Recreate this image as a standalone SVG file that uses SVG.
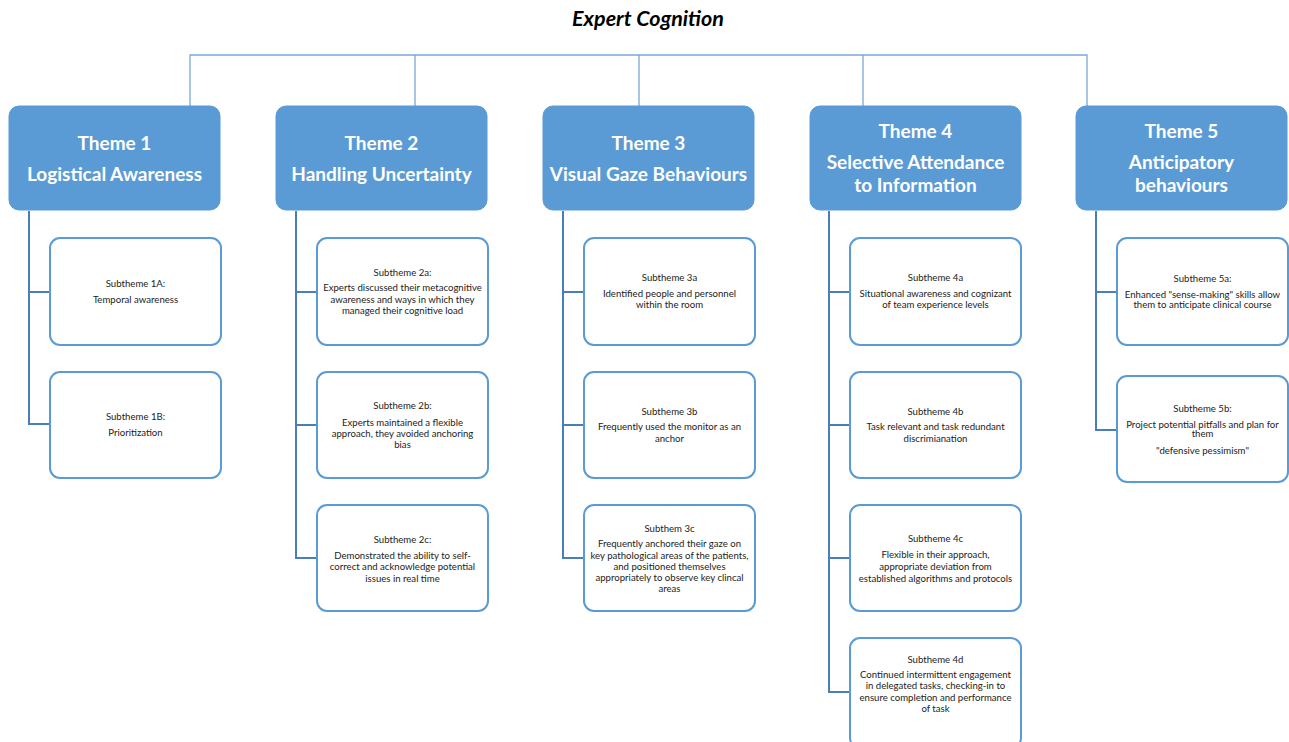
<svg xmlns="http://www.w3.org/2000/svg" width="1289" height="742" viewBox="0 0 1289 742">
<style>
.title{font-family:Lato,"Liberation Sans",sans-serif;font-weight:bold;font-style:italic;font-size:21.5px;fill:#000;text-anchor:middle}
.theme rect{fill:#5b9bd5;stroke:#5b9bd5;stroke-width:1}
.theme text{font-family:Lato,"Liberation Sans",sans-serif;font-weight:bold;font-size:19px;fill:#fff;text-anchor:middle}
.sub rect{fill:#fff;stroke:#5b9bd5;stroke-width:2}
.sub text{font-family:Lato,"Liberation Sans",sans-serif;font-size:9.6px;fill:#222;text-anchor:middle}
.top{fill:none;stroke:#7aa8d8;stroke-width:1.3}
.tree{fill:none;stroke:#4a7ebb;stroke-width:2}
</style>
<rect width="1289" height="742" fill="#fff"/>
<text class="title" x="648" y="25.5">Expert Cognition</text>
<g id="connectors">
<path class="top" d="M190,106 V55 H1087 V106 M415,55 V106 M639,55 V106 M863,55 V106"/>
<path class="tree" d="M29,211 V424 H50 M29,292 H50"/>
<path class="tree" d="M296,211 V558 H317 M296,292 H317 M296,425 H317"/>
<path class="tree" d="M563,211 V558 H584 M563,292 H584 M563,425 H584"/>
<path class="tree" d="M829,211 V692 H850 M829,292 H850 M829,425 H850 M829,558 H850"/>
<path class="tree" d="M1096,211 V430 H1117 M1096,292 H1117"/>
</g>
<g id="theme1" class="theme"><rect x="9" y="106" width="211" height="104" rx="10"/><text x="114.5" y="149.5">Theme 1</text><text x="114.5" y="180.5">Logistical Awareness</text></g>
<g id="theme2" class="theme"><rect x="276" y="106" width="211" height="104" rx="10"/><text x="381.5" y="149.5">Theme 2</text><text x="381.5" y="180.5">Handling Uncertainty</text></g>
<g id="theme3" class="theme"><rect x="543" y="106" width="211" height="104" rx="10"/><text x="648.5" y="149.5">Theme 3</text><text x="648.5" y="180.5">Visual Gaze Behaviours</text></g>
<g id="theme4" class="theme"><rect x="810" y="106" width="211" height="104" rx="10"/><text x="915.5" y="137.5">Theme 4</text><text x="915.5" y="168.5">Selective Attendance</text><text x="915.5" y="191.5">to Information</text></g>
<g id="theme5" class="theme"><rect x="1076" y="106" width="211" height="104" rx="10"/><text x="1181.5" y="137.5">Theme 5</text><text x="1181.5" y="168.5">Anticipatory</text><text x="1181.5" y="191.5">behaviours</text></g>

<g id="sub1a" class="sub"><rect x="50" y="238" width="171" height="107" rx="10"/><text x="135.5" y="286.5">Subtheme 1A:</text><text x="135.5" y="303">Temporal awareness</text></g>
<g id="sub1b" class="sub"><rect x="50" y="372" width="171" height="106" rx="10"/><text x="135.5" y="420">Subtheme 1B:</text><text x="135.5" y="436">Prioritization</text></g>

<g id="sub2a" class="sub"><rect x="317" y="238" width="171" height="107" rx="10"/><text x="402.5" y="275.5">Subtheme 2a:</text><text x="402.5" y="291">Experts discussed their metacognitive</text><text x="402.5" y="302.5">awareness and ways in which they</text><text x="402.5" y="314">managed their cognitive load</text></g>
<g id="sub2b" class="sub"><rect x="317" y="372" width="171" height="106" rx="10"/><text x="402.5" y="409">Subtheme 2b:</text><text x="402.5" y="425.5">Experts maintained a flexible</text><text x="402.5" y="436.5">approach, they avoided anchoring</text><text x="402.5" y="448">bias</text></g>
<g id="sub2c" class="sub"><rect x="317" y="505" width="171" height="106" rx="10"/><text x="402.5" y="543">Subtheme 2c:</text><text x="402.5" y="559">Demonstrated the ability to self-</text><text x="402.5" y="570">correct and acknowledge potential</text><text x="402.5" y="581.5">issues in real time</text></g>

<g id="sub3a" class="sub"><rect x="584" y="238" width="171" height="107" rx="10"/><text x="669.5" y="281">Subtheme 3a</text><text x="669.5" y="297">Identified people and personnel</text><text x="669.5" y="308">within the room</text></g>
<g id="sub3b" class="sub"><rect x="584" y="372" width="171" height="106" rx="10"/><text x="669.5" y="415">Subtheme 3b</text><text x="669.5" y="430">Frequently used the monitor as an</text><text x="669.5" y="442">anchor</text></g>
<g id="sub3c" class="sub"><rect x="584" y="505" width="171" height="106" rx="10"/><text x="669.5" y="531.5">Subthem 3c</text><text x="669.5" y="547">Frequently anchored their gaze on</text><text x="669.5" y="558.5">key pathological areas of the patients,</text><text x="669.5" y="570">and positioned themselves</text><text x="669.5" y="581">appropriately to observe key clincal</text><text x="669.5" y="592">areas</text></g>

<g id="sub4a" class="sub"><rect x="850" y="238" width="171" height="107" rx="10"/><text x="935.5" y="281">Subtheme 4a</text><text x="935.5" y="297">Situational awareness and cognizant</text><text x="935.5" y="308">of team experience levels</text></g>
<g id="sub4b" class="sub"><rect x="850" y="372" width="171" height="106" rx="10"/><text x="935.5" y="415">Subtheme 4b</text><text x="935.5" y="430">Task relevant and task redundant</text><text x="935.5" y="442">discrimianation</text></g>
<g id="sub4c" class="sub"><rect x="850" y="505" width="171" height="106" rx="10"/><text x="935.5" y="542">Subtheme 4c</text><text x="935.5" y="558">Flexible in their approach,</text><text x="935.5" y="569.5">appropriate deviation from</text><text x="935.5" y="581.5">established algorithms and protocols</text></g>
<g id="sub4d" class="sub"><rect x="850" y="638" width="171" height="110" rx="10"/><text x="935.5" y="662.5">Subtheme 4d</text><text x="935.5" y="678">Continued intermittent engagement</text><text x="935.5" y="689">in delegated tasks, checking-in to</text><text x="935.5" y="701">ensure completion and performance</text><text x="935.5" y="712">of task</text></g>

<g id="sub5a" class="sub"><rect x="1117" y="238" width="171" height="107" rx="10"/><text x="1202.5" y="281.5">Subtheme 5a:</text><text x="1202.5" y="298">Enhanced "sense-making" skills allow</text><text x="1202.5" y="308">them to anticipate clinical course</text></g>
<g id="sub5b" class="sub"><rect x="1117" y="376" width="171" height="106" rx="10"/><text x="1202.5" y="411.5">Subtheme 5b:</text><text x="1202.5" y="427.5">Project potential pitfalls and plan for</text><text x="1202.5" y="437">them</text><text x="1202.5" y="454">"defensive pessimism"</text></g>
</svg>
